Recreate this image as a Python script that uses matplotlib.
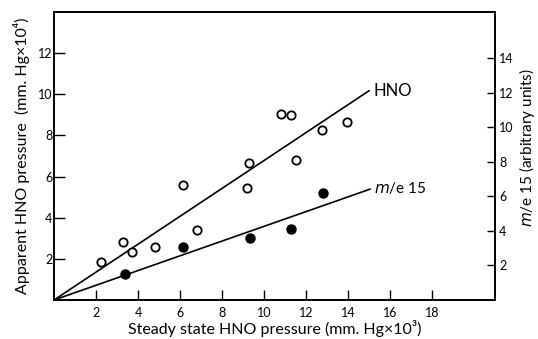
import numpy as np
import matplotlib
matplotlib.use('Agg')
import matplotlib.pyplot as plt

plt.rcParams['font.family'] = ['Lato', 'DejaVu Sans']

# open circles: apparent HNO pressure (left axis)
hno_x = [2.24, 3.30, 3.73, 4.82, 6.14, 6.82, 9.18, 9.29, 10.81, 11.27, 11.52, 12.76, 13.95]
hno_y = [1.86, 2.84, 2.33, 2.60, 5.58, 3.41, 5.43, 6.66, 9.06, 8.99, 6.82, 8.24, 8.64]

# filled circles: m/e 15 (right axis, arbitrary units)
me15_x = [3.38, 6.16, 9.33, 11.27, 12.82]
me15_y = [1.51, 3.09, 3.61, 4.12, 6.19]

# fitted lines through the origin
hno_fit_x = [0, 15.0]
hno_fit_y = [0, 10.17]
me15_fit_x = [0, 15.05]
me15_fit_y = [0, 6.42]

xticks = [2, 4, 6, 8, 10, 12, 14, 16, 18]
lticks = [2, 4, 6, 8, 10, 12]
rticks = [2, 4, 6, 8, 10, 12, 14]

fig = plt.figure(figsize=(5.38, 3.39), dpi=100)
ax = fig.add_axes([0.1004, 0.115, 0.8196, 0.8496])
ax2 = ax.twinx()

ax.plot(hno_fit_x, hno_fit_y, color='k', lw=1.2)
ax.plot(hno_x, hno_y, 'o', markersize=6, markerfacecolor='white',
        markeredgecolor='k', markeredgewidth=1.3)
ax2.plot(me15_fit_x, me15_fit_y, color='k', lw=1.2)
ax2.plot(me15_x, me15_y, 'o', markersize=6.5, color='k')

ax.set_xlim(0, 21)
ax.set_ylim(0, 14)
ax2.set_ylim(0, 16.68)

ax.set_xticks(xticks)
ax.set_yticks(lticks)
ax2.set_yticks(rticks)
ax.tick_params(axis='x', direction='in', length=7, width=1, pad=5, labelsize=9)
ax.tick_params(axis='y', direction='in', length=8, width=1, pad=1, labelsize=9)
ax2.tick_params(axis='y', direction='in', length=6, width=1, pad=3, labelsize=9)
for a in (ax, ax2):
    for s in a.spines.values():
        s.set_linewidth(1.2)

ax.set_xlabel('Steady state HNO pressure (mm. Hg×10³)', fontsize=11.5, labelpad=1)
ax.set_ylabel('Apparent HNO pressure  (mm. Hg×10⁴)', fontsize=11.5, labelpad=6)
ax2.set_ylabel('$m$/e 15 (arbitrary units)', fontsize=11, labelpad=2)
ax2.yaxis.label.set_y(0.53)

ax.text(15.2, 10.17, 'HNO', fontsize=12, va='center', ha='left')
ax2.text(15.25, 6.5, '$m$/e 15', fontsize=11, va='center', ha='left')

fig.savefig('out.png', dpi=100)
